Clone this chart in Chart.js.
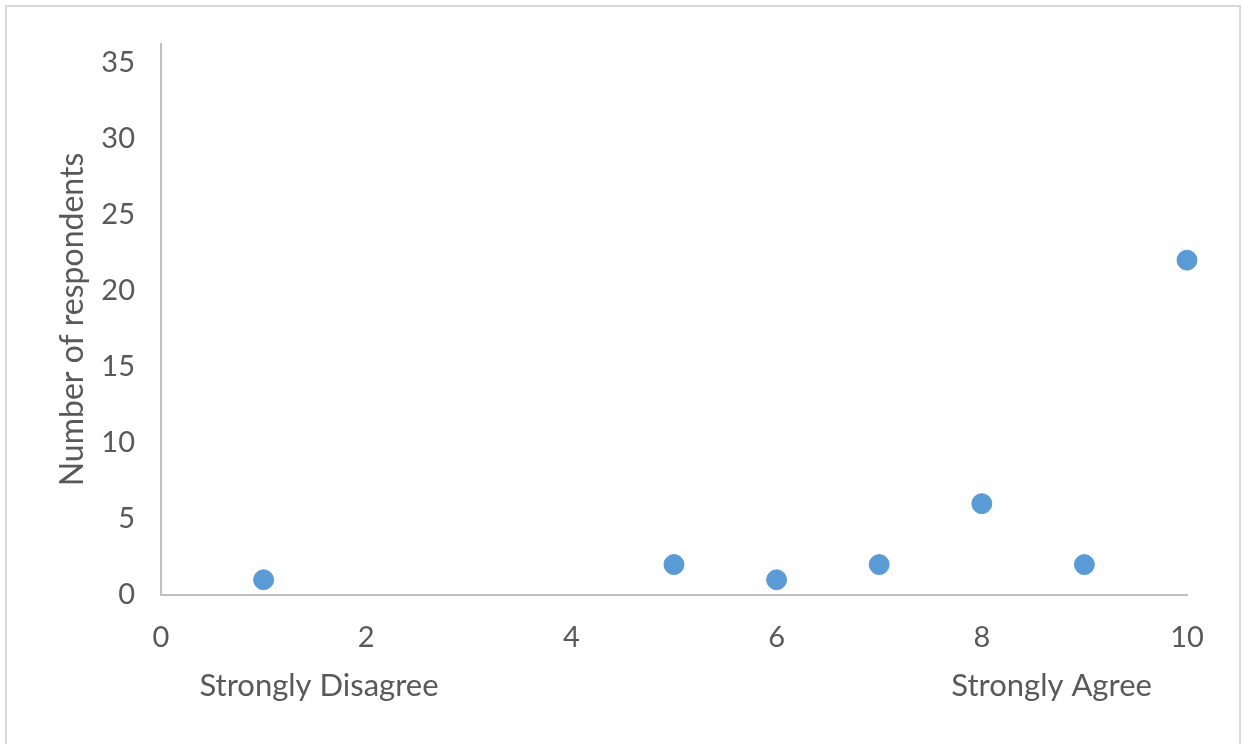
<!DOCTYPE html>
<html>
<head>
<meta charset="utf-8">
<script src="https://cdn.jsdelivr.net/npm/chart.js@4"></script>
<style>
  body { margin: 0; background: #fff; }
  #wrap { position: relative; width: 1242px; height: 744px; }
  #frame { position: absolute; left: 5px; top: 5px; width: 1232px; height: 760px;
           border: 2px solid #d9d9d9; pointer-events: none; }
</style>
</head>
<body>
<div id="wrap">
  <canvas id="myChart" width="1242" height="744"></canvas>
  <div id="frame"></div>
</div>
<script>
// survey scale 1..10, number of respondents per answer
const xValues = [1, 5, 6, 7, 8, 9, 10];
const yValues = [1, 2, 1, 2, 6, 2, 22];
const xTicks = [0, 2, 4, 6, 8, 10];
const yTicks = [0, 5, 10, 15, 20, 25, 30, 35];
const endLabels = ['Strongly Disagree', 'Strongly Agree'];
const endLabelAt = [1.54, 8.68];

const font_family = 'Lato, "Open Sans", sans-serif';
const text_color = '#595959';
const axis_color = '#bfbfbf';

const points = xValues.map((x, i) => ({ x: x, y: yValues[i] }));

const endLabelsPlugin = {
  id: 'endLabels',
  afterDraw(chart) {
    const ctx = chart.ctx;
    const xs = chart.scales.x;
    ctx.save();
    ctx.font = '31px ' + font_family;
    ctx.fillStyle = text_color;
    ctx.textAlign = 'center';
    ctx.textBaseline = 'middle';
    endLabels.forEach((txt, i) => {
      ctx.fillText(txt, xs.getPixelForValue(endLabelAt[i]), chart.chartArea.bottom + 91);
    });
    ctx.restore();
  }
};

const config = {
  type: 'scatter',
  data: {
    datasets: [{
      data: points,
      backgroundColor: '#5b9bd5',
      borderColor: '#5b9bd5',
      pointRadius: 10,
      pointHoverRadius: 10,
      clip: false
    }]
  },
  options: {
    responsive: false,
    animation: false,
    layout: { padding: { top: 44, right: 55, left: 0, bottom: 0 } },
    plugins: { legend: { display: false }, tooltip: { enabled: false } },
    scales: {
      x: {
        type: 'linear',
        min: 0, max: 10,
        afterBuildTicks: (axis) => { axis.ticks = xTicks.map(v => ({ value: v })); },
        afterFit: (s) => { s.height = 149; },
        grid: { display: false, drawTicks: false },
        border: { color: axis_color, width: 2 },
        ticks: { color: text_color, font: { size: 29, family: font_family }, padding: 25 }
      },
      y: {
        min: 0, max: 36.2,
        afterBuildTicks: (axis) => { axis.ticks = yTicks.map(v => ({ value: v })); },
        afterFit: (s) => { s.width = 161; },
        grid: { display: false, drawTicks: false },
        border: { color: axis_color, width: 2 },
        ticks: { color: text_color, font: { size: 29, family: font_family }, padding: 26 },
        title: {
          display: true,
          text: 'Number of respondents',
          color: text_color,
          font: { size: 32, family: font_family, weight: 'normal' },
          padding: { top: 53, bottom: 0 }
        }
      }
    }
  },
  plugins: [endLabelsPlugin]
};

new Chart(document.getElementById('myChart'), config);
</script>
</body>
</html>
